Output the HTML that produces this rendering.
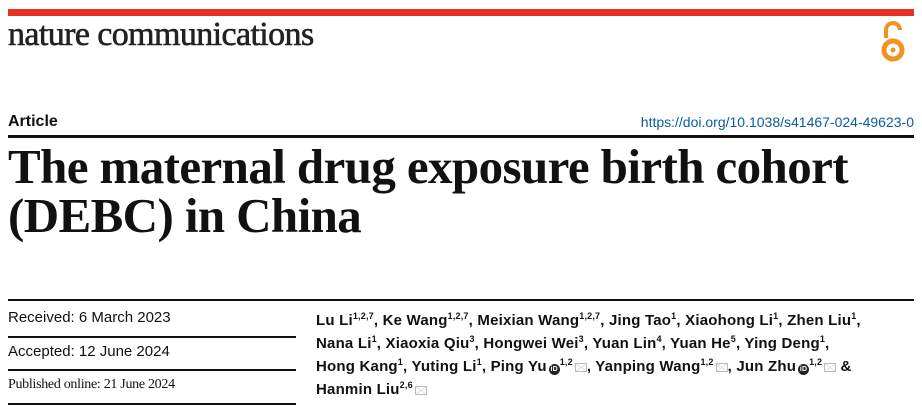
<!DOCTYPE html>
<html><head><meta charset="utf-8"><style>
body{margin:0;width:922px;height:406px;background:#fff;position:relative;overflow:hidden;font-family:"Liberation Sans",sans-serif;color:#111}
.a{position:absolute;white-space:nowrap}
sup{font-size:9px;vertical-align:6px;line-height:0}
.m{display:inline-block;width:12px;height:9px;border:1px solid #bbb;box-sizing:border-box;margin-left:2px;vertical-align:-1px;background:linear-gradient(35deg,transparent 45%,#ccc 50%,transparent 55%),linear-gradient(-35deg,transparent 45%,#ccc 50%,transparent 55%)}
.o{display:inline-block;width:11px;height:11px;border-radius:50%;background:#222;color:#fff;font-size:7px;text-align:center;line-height:11px;margin-left:2px;vertical-align:0}
</style></head><body>
<div class="a" style="left:8px;top:9px;width:906px;height:7px;background:#e63223"></div>
<div class="a" style="left:8px;top:16px;font-family:'Liberation Serif',serif;font-size:34px;letter-spacing:-0.6px;transform:scaleX(1.0);transform-origin:left;color:#222;-webkit-text-stroke:0.6px #222">nature communications</div>
<svg class="a" style="left:880px;top:20px" width="26" height="44" viewBox="0 0 26 44"><path d="M6 18 V10 a7 7 0 0 1 14 0" fill="none" stroke="#f39220" stroke-width="4"/><circle cx="13" cy="30" r="9" fill="none" stroke="#f39220" stroke-width="5"/><circle cx="13" cy="30" r="2.5" fill="#f39220"/></svg>
<div class="a" style="left:8px;top:113px;font-weight:bold;font-size:16px">Article</div>
<div class="a" style="right:8px;top:114px;font-size:14px;color:#0b5d9a">https://doi.org/10.1038/s41467-024-49623-0</div>
<div class="a" style="left:8px;top:135px;width:906px;height:3px;background:#111"></div>
<div class="a" style="left:8px;top:142px;font-family:'Liberation Serif',serif;font-weight:bold;font-size:49px;line-height:49px;letter-spacing:-0.6px">The maternal drug exposure birth cohort<br>(DEBC) in China</div>
<div class="a" style="left:8px;top:299px;width:906px;height:2px;background:#111"></div>
<div class="a" style="left:8px;top:309px;font-size:15px">Received: 6 March 2023</div>
<div class="a" style="left:8px;top:336px;width:288px;height:2px;background:#111"></div>
<div class="a" style="left:8px;top:343px;font-size:15px">Accepted: 12 June 2024</div>
<div class="a" style="left:8px;top:369px;width:288px;height:2px;background:#111"></div>
<div class="a" style="left:8px;top:377px;font-family:'Liberation Serif',serif;font-size:14px;letter-spacing:-0.3px">Published online: 21 June 2024</div>
<div class="a" style="left:8px;top:403px;width:288px;height:2px;background:#111"></div>
<div class="a" style="left:316px;top:309px;font-weight:bold;font-size:15px;line-height:23px;letter-spacing:0.2px">
Lu Li<sup>1,2,7</sup>, Ke Wang<sup>1,2,7</sup>, Meixian Wang<sup>1,2,7</sup>, Jing Tao<sup>1</sup>, Xiaohong Li<sup>1</sup>, Zhen Liu<sup>1</sup>,<br>
Nana Li<sup>1</sup>, Xiaoxia Qiu<sup>3</sup>, Hongwei Wei<sup>3</sup>, Yuan Lin<sup>4</sup>, Yuan He<sup>5</sup>, Ying Deng<sup>1</sup>,<br>
Hong Kang<sup>1</sup>, Yuting Li<sup>1</sup>, Ping Yu<span class="o">iD</span><sup>1,2</sup><span class="m"></span>, Yanping Wang<sup>1,2</sup><span class="m"></span>, Jun Zhu<span class="o">iD</span><sup>1,2</sup><span class="m"></span> &amp;<br>
Hanmin Liu<sup>2,6</sup><span class="m"></span></div>
</body></html>
